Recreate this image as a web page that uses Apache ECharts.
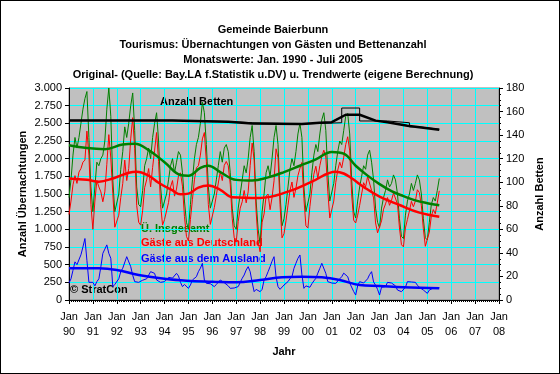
<!DOCTYPE html>
<html>
<head>
<meta charset="utf-8">
<script src="https://cdn.jsdelivr.net/npm/echarts@6/dist/echarts.min.js"></script>
<style>
html,body{margin:0;padding:0;background:#fff;}
#wrap{position:relative;width:560px;height:374px;}
#chart{position:absolute;left:0;top:0;width:560px;height:374px;}
#frame{position:absolute;left:0;top:0;width:558px;height:372px;border:1px solid #000;pointer-events:none;}
</style>
</head>
<body>
<div id="wrap"><div id="chart"></div><div id="frame"></div></div>
<script>
// x axis: months since Jan 1990; tick labels every 12 months
const tickYears = ['90','91','92','93','94','95','96','97','98','99','00','01','02','03','04','05','06','07','08'];

// Monthly values Jan 1990 - Jul 2005 (Übernachtungen)
const gesamt = [
  1450,1700,2050,2300,2150,2300,2500,2700,2850,2950,2300,1600,
  1250,1600,1950,1900,2000,2050,2250,2700,3000,2600,1700,1250,
  1250,1500,1850,2100,2450,2300,2500,2750,2930,2400,1600,1350,
  1320,1550,1900,2000,2150,2000,2300,2500,2650,2250,1600,1300,
  1400,1500,1700,1900,2000,1800,1950,2100,2050,1800,1400,1100,
  1000,1350,1700,2000,2200,2300,2500,2800,2650,2200,1600,1300,
  1320,1500,1700,1900,2100,1950,2150,2200,2100,1800,1300,1050,
  1000,1300,1500,1700,1900,1800,2000,2300,2470,2100,1400,1000,
  800,1250,1500,1800,1900,1750,2000,2300,2470,2200,1500,1050,
  1150,1350,1600,1850,2000,1900,2100,2350,2500,2300,1600,1250,
  1230,1500,1800,2050,2200,2100,2350,2550,2650,2400,1800,1400,
  1400,1650,1900,2100,2250,2200,2400,2600,2640,2350,1700,1250,
  1160,1400,1600,1750,1900,1850,2050,2120,1950,1700,1300,1100,
  1020,1300,1450,1550,1700,1600,1650,1770,1700,1500,1150,900,
  870,1200,1400,1500,1650,1550,1650,1770,1700,1500,1150,880,
  850,1100,1350,1450,1400,1550,1720
];
const deutschland = [
  1210,1400,1630,1760,1650,1810,1860,1950,1980,2390,2050,1350,
  1000,1400,1690,1600,1530,1390,1530,1920,2340,2010,1510,1030,
  1014,1200,1450,1650,1980,1690,1860,2280,2580,2140,1340,1100,
  1060,1270,1590,1700,1860,1600,1875,2120,2370,1960,1350,1060,
  1140,1260,1380,1600,1690,1470,1570,1760,1800,1610,1180,900,
  835,1140,1420,1700,1870,1900,2050,2280,2370,1960,1350,1070,
  1084,1310,1480,1655,1817,1690,1905,1960,1900,1635,1150,880,
  820,1110,1300,1390,1550,1375,1530,1900,2220,1980,1250,830,
  682,1100,1217,1470,1500,1278,1450,1687,2140,2011,1349,880,
  938,1120,1340,1550,1670,1452,1580,1760,1863,1946,1435,1050,
  1018,1320,1570,1780,1893,1720,1902,2031,2120,2023,1540,1160,
  1160,1400,1665,1840,1950,1870,2020,2199,2310,2110,1488,1130,
  1090,1200,1340,1500,1660,1600,1750,1760,1549,1445,1090,950,
  950,1120,1285,1360,1450,1340,1410,1515,1500,1359,1020,782,
  752,1020,1140,1260,1395,1320,1400,1560,1520,1335,1009,760,
  756,960,1185,1280,1220,1375,1545
];
const ausland = [
  240,300,420,540,500,490,640,750,870,560,250,250,
  250,200,260,300,470,660,720,780,660,590,190,220,
  236,300,400,450,470,613,637,472,350,260,260,250,
  260,280,307,300,290,401,425,377,283,290,250,240,
  260,240,320,300,310,330,377,340,250,189,220,200,
  165,212,283,300,330,401,450,519,283,236,250,230,
  236,189,220,245,283,260,245,240,200,165,151,170,
  179,190,200,307,354,425,472,401,250,118,150,170,
  118,150,283,330,400,472,550,613,330,189,151,170,
  212,230,260,300,330,448,520,590,637,354,165,200,
  212,180,230,270,307,380,448,519,530,377,260,240,
  240,250,235,260,300,330,380,401,330,240,212,120,
  70,200,260,250,240,250,300,360,401,255,210,150,
  70,180,165,190,250,260,240,255,200,141,130,118,
  118,180,260,240,255,230,250,210,180,165,141,120,
  94,140,165,170,180,175,175
];

// Trend values [month index, value]
const trendGesamt = [[0,2190],[9,2150],[18,2135],[27,2200],[33,2210],[40,2120],[48,1950],[56,1770],[60,1760],[66,1870],[70,1900],[76,1810],[84,1700],[92,1690],[100,1735],[108,1810],[116,1900],[124,1990],[132,2095],[138,2070],[144,1900],[150,1760],[156,1640],[162,1540],[168,1470],[174,1410],[180,1370],[186,1340]];
const trendDeutschland = [[0,1720],[9,1700],[15,1674],[22,1720],[30,1800],[34,1816],[40,1760],[45,1660],[52,1550],[56,1495],[60,1505],[65,1590],[70,1620],[76,1560],[82,1455],[96,1445],[110,1533],[122,1674],[134,1816],[138,1790],[142,1722],[148,1600],[156,1462],[166,1344],[176,1236],[186,1179]];
const trendAusland = [[0,448],[15,448],[24,425],[35,354],[49,297],[59,274],[72,260],[84,250],[96,283],[107,321],[117,330],[127,321],[136,283],[146,212],[156,198],[168,179],[186,165]];

// Anzahl Betten (right axis)
const bettenRaw = [[0,152.5],[52,152.5],[52,151.5],[80,151.5],[80,150.5],[92,150.5],[92,149.5],[117,149.5],[117,150.5],[137,150.5],[137,163],[146,163],[146,152],[160,152],[160,150.5],[171,150.5],[171,147],[176,147],[176,146],[186,145]];
const bettenTrend = [[0,152.5],[52,152.3],[80,151.4],[92,149.8],[117,149.5],[126,150.5],[132,151],[139,157.3],[146,157.3],[154,152.3],[160,151],[170,148],[186,144.5]];

const FONT = 'Liberation Sans, Arial, sans-serif';
const toPairs = arr => arr.map((v, i) => [i, v]);
const fmtThousand = v => String(v).replace(/\B(?=(\d{3})+(?!\d))/g, '.');

const chart = echarts.init(document.getElementById('chart'), null, {renderer: 'canvas'});
chart.setOption({
  animation: false,
  backgroundColor: '#ffffff',
  textStyle: {fontFamily: FONT},
  title: {
    text: 'Gemeinde Baierbunn\nTourismus: Übernachtungen von Gästen und Bettenanzahl\nMonatswerte: Jan. 1990 - Juli 2005\nOriginal- (Quelle: Bay.LA f.Statistik u.DV) u. Trendwerte (eigene Berechnung)',
    left: 268, top: 17, textAlign: 'center',
    textStyle: {fontFamily: FONT, fontSize: 11, fontWeight: 'bold', color: '#000', lineHeight: 15}
  },
  grid: {left: 69, right: 61, top: 88, bottom: 74, show: true, backgroundColor: '#C0C0C0', borderColor: '#808080', borderWidth: 1},
  xAxis: {
    type: 'value', min: 0, max: 216, interval: 12,
    name: 'Jahr', nameLocation: 'middle', nameGap: 46, nameMoveOverlap: false,
    nameTextStyle: {fontFamily: FONT, fontSize: 11, fontWeight: 'bold', color: '#000'},
    axisLine: {show: true, lineStyle: {color: '#000', width: 1}},
    axisTick: {show: true, length: 4, lineStyle: {color: '#000'}},
    minorTick: {show: true, splitNumber: 12, length: 2, lineStyle: {color: '#000'}},
    axisLabel: {fontFamily: FONT, fontSize: 11, color: '#000', lineHeight: 15, margin: 9,
      formatter: v => 'Jan\n' + tickYears[Math.round(v / 12)]},
    splitLine: {show: true, lineStyle: {color: '#00FFFF', width: 1}}
  },
  yAxis: [{
    type: 'value', min: 0, max: 3000, interval: 250,
    name: 'Anzahl Übernachtungen', nameLocation: 'middle', nameGap: 41, nameRotate: 90, nameMoveOverlap: false,
    nameTextStyle: {fontFamily: FONT, fontSize: 11, fontWeight: 'bold', color: '#000'},
    axisLine: {show: true, lineStyle: {color: '#000'}},
    axisTick: {show: true, length: 4, lineStyle: {color: '#000'}},
    axisLabel: {fontFamily: FONT, fontSize: 11, color: '#000', margin: 7, formatter: fmtThousand},
    splitLine: {show: true, lineStyle: {color: '#00FFFF', width: 1}}
  }, {
    type: 'value', min: 0, max: 180, interval: 20, position: 'right',
    name: 'Anzahl Betten', nameLocation: 'middle', nameGap: 35, nameRotate: 90, nameMoveOverlap: false,
    nameTextStyle: {fontFamily: FONT, fontSize: 11, fontWeight: 'bold', color: '#000'},
    axisLine: {show: true, lineStyle: {color: '#000'}},
    axisTick: {show: true, length: 4, lineStyle: {color: '#000'}},
    minorTick: {show: true, splitNumber: 4, length: 2, lineStyle: {color: '#000'}},
    axisLabel: {fontFamily: FONT, fontSize: 11, color: '#000', margin: 7},
    splitLine: {show: false}
  }],
  graphic: [
    {type: 'text', left: 141, top: 223, style: {text: 'Ü. Insgesamt', fill: '#008000', font: 'bold 11px ' + FONT}},
    {type: 'text', left: 141, top: 237, style: {text: 'Gäste aus Deutschland', fill: '#FF0000', font: 'bold 11px ' + FONT}},
    {type: 'text', left: 141, top: 253, style: {text: 'Gäste aus dem Ausland', fill: '#0000FF', font: 'bold 11px ' + FONT}},
    {type: 'text', left: 160, top: 96, style: {text: 'Anzahl Betten', fill: '#000', font: 'bold 11px ' + FONT}},
    {type: 'text', left: 70, top: 284, style: {text: '© StratCon', fill: '#000', font: 'bold 11px ' + FONT}}
  ],
  series: [
    {type: 'line', name: 'Ü. Insgesamt', data: toPairs(gesamt), symbol: 'none', lineStyle: {color: '#008000', width: 1}},
    {type: 'line', name: 'Gäste aus Deutschland', data: toPairs(deutschland), symbol: 'none', lineStyle: {color: '#FF0000', width: 1}},
    {type: 'line', name: 'Gäste aus dem Ausland', data: toPairs(ausland), symbol: 'none', lineStyle: {color: '#0000FF', width: 1}},
    {type: 'line', name: 'Trend Insgesamt', data: trendGesamt, smooth: 0.4, symbol: 'none', lineStyle: {color: '#008000', width: 2.5}},
    {type: 'line', name: 'Trend Deutschland', data: trendDeutschland, smooth: 0.4, symbol: 'none', lineStyle: {color: '#FF0000', width: 2.5}},
    {type: 'line', name: 'Trend Ausland', data: trendAusland, smooth: 0.4, symbol: 'none', lineStyle: {color: '#0000FF', width: 2.5}},
    {type: 'line', name: 'Betten', yAxisIndex: 1, data: bettenRaw, symbol: 'none', lineStyle: {color: '#000', width: 1}},
    {type: 'line', name: 'Betten Trend', yAxisIndex: 1, data: bettenTrend, symbol: 'none', lineStyle: {color: '#000', width: 2.5}}
  ]
});
</script>
</body>
</html>
